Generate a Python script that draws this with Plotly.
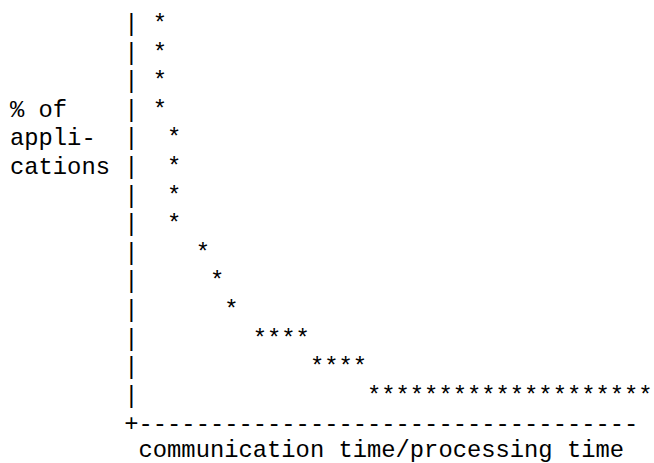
import plotly.graph_objects as go

# ---- data (character grid: column = ratio position, row = level from top) ----
star_cols = [10, 10, 10, 10, 11, 11, 11, 11, 13, 14, 15,
             17, 18, 19, 20,
             21, 22, 23, 24,
             25, 26, 27, 28, 29, 30, 31, 32, 33, 34, 35, 36, 37, 38, 39, 40, 41, 42, 43, 44]
star_rows = [0, 1, 2, 3, 4, 5, 6, 7, 8, 9, 10,
             11, 11, 11, 11,
             12, 12, 12, 12,
             13, 13, 13, 13, 13, 13, 13, 13, 13, 13, 13, 13, 13, 13, 13, 13, 13, 13, 13, 13]

axis_bar_rows = [0, 1, 2, 3, 4, 5, 6, 7, 8, 9, 10, 11, 12, 13]
y_label_lines = ["% of", "appli-", "cations"]
y_label_rows = [3, 4, 5]
x_axis_line = "+-----------------------------------"
x_label = "communication time/processing time"

FSIZE = 23.8
FONT = dict(family="Liberation Mono", size=FSIZE, color="black")
W_PX, H_PX = 654, 463
CW, LH = FSIZE * 0.6, 28.6   # char width / line height in px
X0, Y0 = 10.0, 25.0          # grid offsets in px

xa = -(X0 / CW) - 0.5
xb = xa + W_PX / CW
ya = -Y0 / LH
yb = ya + H_PX / LH

fig = go.Figure()

# the curve
fig.add_trace(go.Scatter(x=star_cols, y=star_rows, mode="text", text=["*"] * len(star_cols),
                         textposition="middle center", textfont=FONT, cliponaxis=False,
                         hoverinfo="skip", showlegend=False))
# vertical axis drawn with '|'
fig.add_trace(go.Scatter(x=[8] * len(axis_bar_rows), y=axis_bar_rows, mode="text",
                         text=["|"] * len(axis_bar_rows), textposition="middle center",
                         textfont=FONT, cliponaxis=False, hoverinfo="skip", showlegend=False))
# horizontal axis, y label, x label (label nudged up slightly so descenders stay visible)
fig.add_trace(go.Scatter(x=[-0.5] * len(y_label_lines) + [7.5, 8.5],
                         y=y_label_rows + [14, 15 - 2.5 / LH], mode="text",
                         text=y_label_lines + [x_axis_line, x_label],
                         textposition="middle right", textfont=FONT, cliponaxis=False,
                         hoverinfo="skip", showlegend=False))

fig.update_layout(
    width=W_PX, height=H_PX, margin=dict(l=0, r=0, t=0, b=0),
    paper_bgcolor="white", plot_bgcolor="white",
    xaxis=dict(range=[xa, xb], visible=False, fixedrange=True),
    yaxis=dict(range=[yb, ya], visible=False, fixedrange=True),
    showlegend=False,
)

fig.write_html("out.html", config={"displayModeBar": False},
               post_script="document.body.style.margin='0';document.body.style.overflow='hidden';")
